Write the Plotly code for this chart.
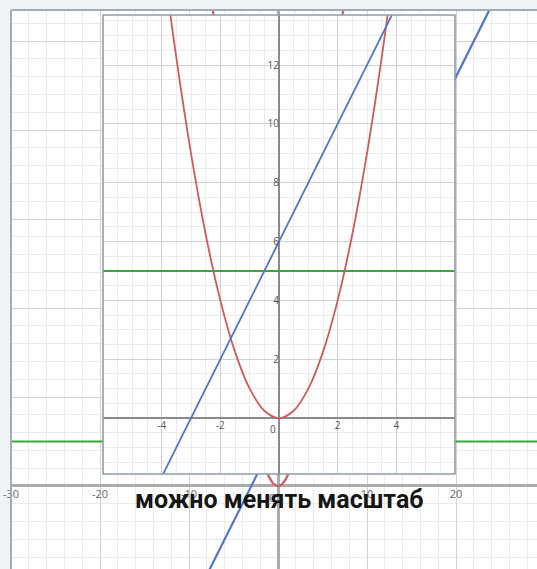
import plotly.graph_objects as go

# ---- data ----
parab_x = [-8, -7, -6, -5, -4, -3.5, -3, -2.5, -2, -1.5, -1, -0.5, 0,
           0.5, 1, 1.5, 2, 2.5, 3, 3.5, 4, 5, 6, 7, 8]
parab_y = [64, 49, 36, 25, 16, 12.25, 9, 6.25, 4, 2.25, 1, 0.25, 0,
           0.25, 1, 2.25, 4, 6.25, 9, 12.25, 16, 25, 36, 49, 64]
line_x = [-12, 26]
line_y = [-18, 58]
level_x = [-40, 40]
level_y = [5, 5]

bg_tickvals = [-30, -20, -10, 10, 20]
bg_ticktext = ["-30", "-20", "-10", "10", "20"]
in_xtickvals = [-4, -2, 2, 4]
in_xticktext = ["-4", "-2", "2", "4"]
in_ytickvals = [2, 4, 6, 8, 10, 12]
in_yticktext = ["2", "4", "6", "8", "10", "12"]
caption = "можно менять масштаб"

RED = "#cf5a5a"
BLUE = "#5076c8"
GREEN = "#3aa63a"

fig = go.Figure()

for xa, ya, w in (("x", "y", 2.2), ("x2", "y2", 1.8)):
    fig.add_trace(go.Scatter(x=level_x, y=level_y, mode="lines",
                             line=dict(color=GREEN, width=w),
                             xaxis=xa, yaxis=ya, hoverinfo="skip"))
    fig.add_trace(go.Scatter(x=parab_x, y=parab_y, mode="lines",
                             line=dict(color=RED, width=w, shape="spline"),
                             xaxis=xa, yaxis=ya, hoverinfo="skip"))
    fig.add_trace(go.Scatter(x=line_x, y=line_y, mode="lines",
                             line=dict(color=BLUE, width=w),
                             xaxis=xa, yaxis=ya, hoverinfo="skip"))

W, H = 537, 569
ML, MT = 11, 10
PW, PH = W - ML, H - MT


def px_x(p):
    return (p - ML) / PW


def px_y(p):
    return (H - p) / PH


tickfont = dict(family="Open Sans", size=11, color="#666666")
tickfont2 = dict(family="Open Sans", size=10, color="#555555")

fig.update_layout(
    width=W, height=H, autosize=False,
    margin=dict(l=ML, r=0, t=MT, b=0, pad=0),
    paper_bgcolor="#eef3f8",
    plot_bgcolor="#ffffff",
    showlegend=False,
    hovermode=False,
    xaxis=dict(
        domain=[0, 1], range=[-30, 29.1], anchor="free", position=px_y(486),
        tickmode="array", tickvals=bg_tickvals, ticktext=bg_ticktext,
        tickfont=tickfont, ticks="", showline=False,
        showgrid=True, gridcolor="#d2d2d2", gridwidth=1,
        minor=dict(tickmode="linear", tick0=0, dtick=2, showgrid=True,
                   gridcolor="#ebebeb", gridwidth=1),
        zeroline=True, zerolinecolor="#ababab", zerolinewidth=2.5,
        fixedrange=True,
    ),
    yaxis=dict(
        domain=[0, 1], range=[-9.33, 53.5], anchor="free", position=px_x(278),
        tickmode="linear", tick0=0, dtick=10, showticklabels=False,
        ticks="", showline=False,
        showgrid=True, gridcolor="#d2d2d2", gridwidth=1,
        minor=dict(tickmode="linear", tick0=0, dtick=2, showgrid=True,
                   gridcolor="#ebebeb", gridwidth=1),
        zeroline=True, zerolinecolor="#ababab", zerolinewidth=2.5,
        fixedrange=True,
    ),
    xaxis2=dict(
        domain=[px_x(103), px_x(455)], range=[-6, 6], anchor="free",
        position=px_y(418),
        tickmode="array", tickvals=in_xtickvals, ticktext=in_xticktext,
        tickfont=tickfont2, ticks="", showline=False,
        showgrid=True, gridcolor="#d0d0d0", gridwidth=1,
        minor=dict(tickmode="linear", tick0=0, dtick=0.5, showgrid=True,
                   gridcolor="#ebebeb", gridwidth=1),
        zeroline=True, zerolinecolor="#8a8a8a", zerolinewidth=1.6,
        fixedrange=True,
    ),
    yaxis2=dict(
        domain=[px_y(474), px_y(15)], range=[-1.9, 13.7], anchor="free",
        position=px_x(279),
        tickmode="array", tickvals=in_ytickvals, ticktext=in_yticktext,
        tickfont=tickfont2, ticks="", showline=False,
        showgrid=True, gridcolor="#d0d0d0", gridwidth=1,
        minor=dict(tickmode="linear", tick0=0, dtick=0.5, showgrid=True,
                   gridcolor="#ebebeb", gridwidth=1),
        zeroline=True, zerolinecolor="#8a8a8a", zerolinewidth=1.6,
        fixedrange=True,
    ),
)

# frames
fig.add_shape(type="rect", xref="x2 domain", yref="y2 domain",
              x0=0, x1=1, y0=0, y1=1, line=dict(color="#8f9aac", width=1.6),
              layer="above")
fig.add_shape(type="line", xref="paper", yref="paper", x0=0, x1=0, y0=0, y1=1,
              line=dict(color="#a3abb8", width=2), layer="above")
fig.add_shape(type="line", xref="paper", yref="paper", x0=0, x1=1, y0=1, y1=1,
              line=dict(color="#a3abb8", width=2), layer="above")

# origin labels
fig.add_annotation(x=0, y=0, xref="x2", yref="y2", text="0", showarrow=False,
                   xanchor="right", yanchor="top", xshift=-1, yshift=-2,
                   font=tickfont2)
fig.add_annotation(x=0, y=0, xref="x", yref="y", text="0", showarrow=False,
                   xanchor="right", yanchor="top", xshift=-1, yshift=-2,
                   font=tickfont)

fig.add_annotation(x=px_x(279), y=px_y(499), xref="paper", yref="paper",
                   text=caption, showarrow=False, xanchor="center",
                   yanchor="middle",
                   font=dict(family="Roboto", size=25, color="#161616",
                             weight=700))

fig.write_html(
    "out.html",
    config={"displayModeBar": False},
    post_script="document.body.style.margin='0px';"
                "document.body.style.background='#eef3f8';",
)
